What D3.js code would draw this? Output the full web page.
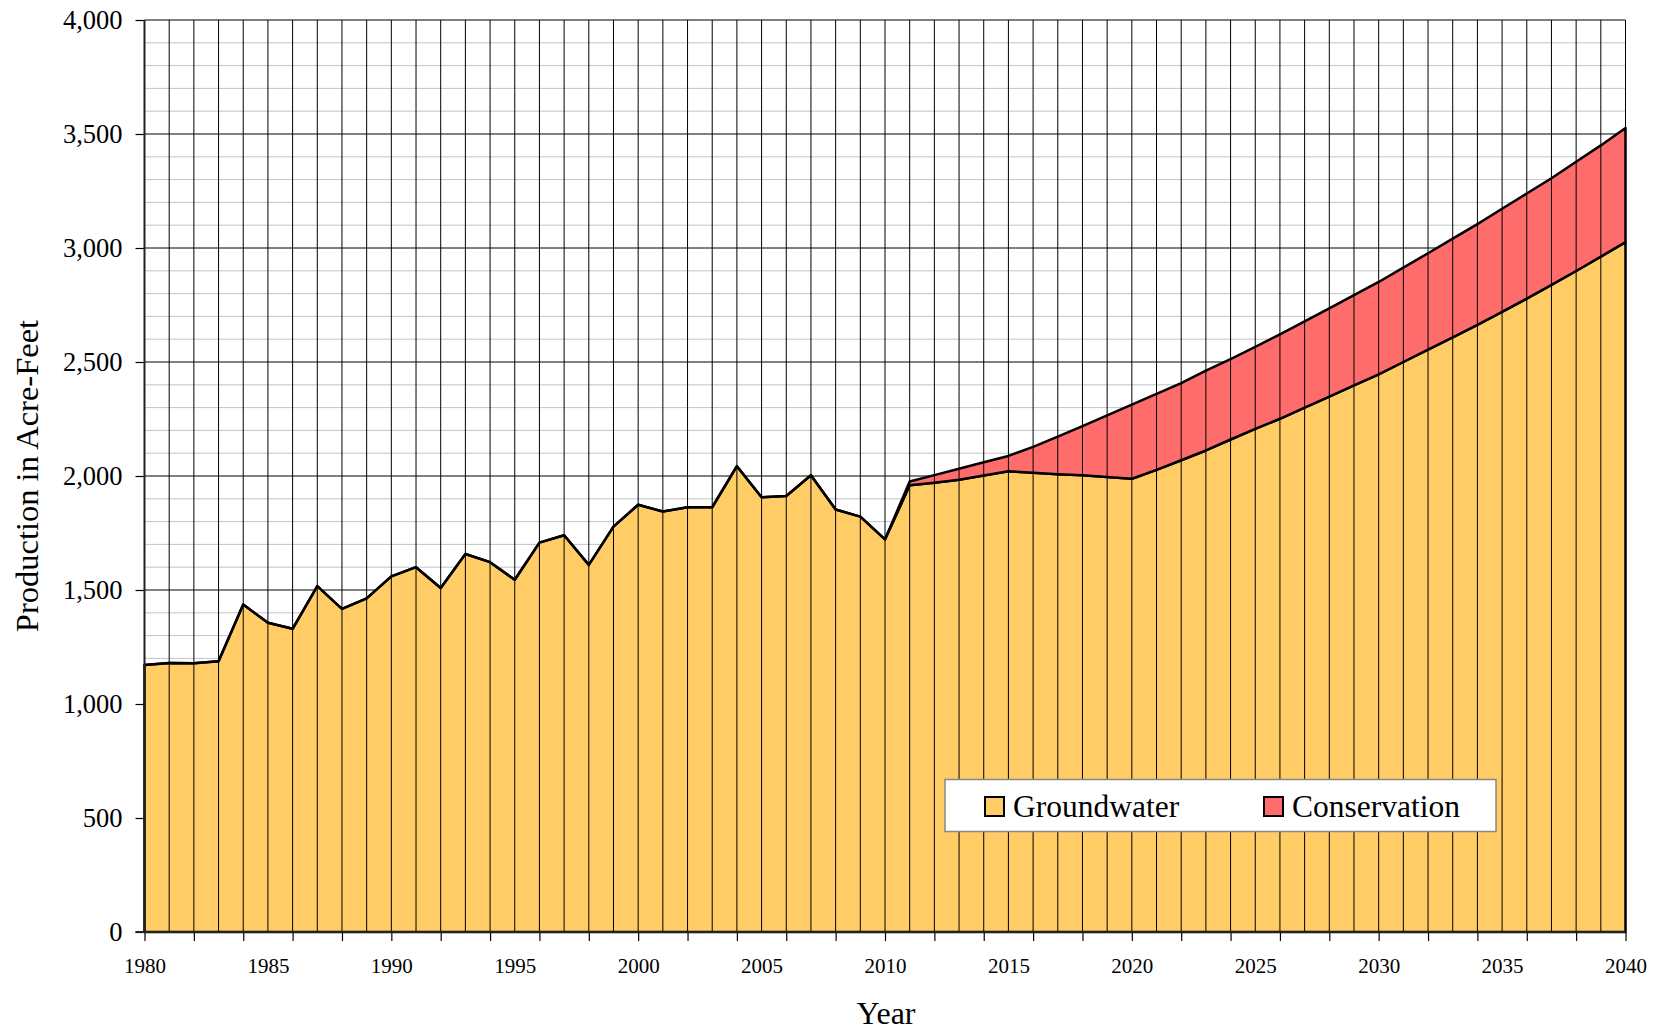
<!DOCTYPE html>
<html lang="en">
<head>
    <meta charset="UTF-8">
    <title>Production in Acre-Feet</title>
    <script src="https://d3js.org/d3.v7.min.js"></script>
    <style>
        html, body {
            margin: 0;
            padding: 0;
            background-color: #ffffff;
        }
        svg text {
            font-family: 'Liberation Serif', 'Times New Roman', serif;
            fill: #000;
        }
    </style>
</head>
<body>
    <div id="chart"></div>
    <script>
        // DATA
        const years = d3.range(1980, 2041);
        const groundwater = [
            1171, 1180, 1179, 1187, 1436, 1356, 1330, 1517, 1417, 1463,
            1560, 1600, 1509, 1658, 1622, 1545, 1708, 1740, 1610, 1778,
            1874, 1844, 1863, 1863, 2043, 1907, 1912, 2003, 1853, 1822,
            1722, 1959, 1970, 1984, 2002, 2021, 2014, 2008, 2003, 1996,
            1988, 2027, 2069, 2112, 2160, 2207, 2251, 2300, 2348, 2397,
            2446, 2500, 2554, 2608, 2663, 2720, 2778, 2838, 2899, 2962,
            3026
        ];
        const conservation = [
            0, 0, 0, 0, 0, 0, 0, 0, 0, 0,
            0, 0, 0, 0, 0, 0, 0, 0, 0, 0,
            0, 0, 0, 0, 0, 0, 0, 0, 0, 0,
            0, 17, 34, 48, 58, 67, 114, 165, 216, 270,
            325, 333, 338, 350, 353, 359, 370, 378, 387, 396,
            405, 414, 423, 433, 442, 452, 461, 468, 479, 488,
            500
        ];
        const yTicks = d3.range(0, 4001, 500);
        const xLabelYears = d3.range(1980, 2041, 5);
        const xTickYears = d3.range(1980, 2041, 2);
        const seriesNames = ["Groundwater", "Conservation"];
        const seriesColors = ["#FFCC66", "#FF6C6C"];

        const W = 1661, H = 1030;
        const margin = {top: 20, left: 144.5, bottom: 98, right: 35.5};

        const svg = d3.select("#chart")
            .append("svg")
            .attr("width", W)
            .attr("height", H);

        const x = d3.scaleLinear()
            .domain([1980, 2040])
            .range([margin.left, W - margin.right]);
        const y = d3.scaleLinear()
            .domain([0, 4000])
            .range([H - margin.bottom, margin.top]);

        // HORIZONTAL GRID (minor every 100, major every 500)
        svg.append("g")
            .selectAll("line")
            .data(d3.range(100, 4000, 100).filter(v => v % 500 !== 0))
            .enter().append("line")
            .attr("x1", x(1980)).attr("x2", x(2040))
            .attr("y1", d => y(d)).attr("y2", d => y(d))
            .attr("stroke", "#c4c4c4")
            .attr("stroke-width", 1);
        svg.append("g")
            .selectAll("line")
            .data(yTicks.filter(v => v > 0))
            .enter().append("line")
            .attr("x1", x(1980)).attr("x2", x(2040))
            .attr("y1", d => y(d)).attr("y2", d => y(d))
            .attr("stroke", "#000")
            .attr("stroke-width", 1);

        // STACKED AREAS
        const table = years.map((yr, i) => ({
            year: yr,
            Groundwater: groundwater[i],
            Conservation: conservation[i]
        }));
        const stacked = d3.stack().keys(seriesNames)(table);
        const area = d3.area()
            .x(d => x(d.data.year))
            .y0(d => y(d[0]))
            .y1(d => y(d[1]));

        svg.append("g")
            .selectAll("path")
            .data(stacked)
            .enter().append("path")
            .attr("d", area)
            .attr("fill", (d, i) => seriesColors[i])
            .attr("stroke", "#000")
            .attr("stroke-width", 2.5)
            .attr("stroke-linejoin", "round");

        // VERTICAL GRID (every year, drawn over the areas)
        svg.append("g")
            .selectAll("line")
            .data(years)
            .enter().append("line")
            .attr("x1", d => x(d)).attr("x2", d => x(d))
            .attr("y1", y(4000)).attr("y2", y(0))
            .attr("stroke", "#000")
            .attr("stroke-width", 1);

        // AXES
        const yAxis = d3.axisLeft(y)
            .tickValues(yTicks)
            .tickSize(9)
            .tickPadding(13)
            .tickFormat(d3.format(","));
        const gy = svg.append("g")
            .attr("transform", `translate(${x(1980)},0)`)
            .call(yAxis);
        gy.select(".domain").remove();
        gy.selectAll("line").attr("stroke", "#000").attr("stroke-width", 1.2);
        gy.selectAll("text").style("font-size", "26.5px");

        const xAxis = d3.axisBottom(x)
            .tickValues(xTickYears)
            .tickSize(9)
            .tickFormat("");
        const gx = svg.append("g")
            .attr("transform", `translate(0,${y(0)})`)
            .call(xAxis);
        gx.select(".domain").remove();
        gx.selectAll("line").attr("stroke", "#000").attr("stroke-width", 1.2);

        const xLabels = d3.axisBottom(x)
            .tickValues(xLabelYears)
            .tickSize(0)
            .tickPadding(26)
            .tickFormat(d3.format("d"));
        const gxl = svg.append("g")
            .attr("transform", `translate(0,${y(0)})`)
            .call(xLabels);
        gxl.select(".domain").remove();
        gxl.selectAll("text").style("font-size", "21px");

        // AXIS LINES
        svg.append("line")
            .attr("x1", x(1980)).attr("x2", x(1980))
            .attr("y1", y(4000)).attr("y2", y(0))
            .attr("stroke", "#222").attr("stroke-width", 2);
        svg.append("line")
            .attr("x1", x(1980) - 9).attr("x2", x(2040))
            .attr("y1", y(0)).attr("y2", y(0))
            .attr("stroke", "#222").attr("stroke-width", 2);

        // AXIS TITLES
        svg.append("text")
            .attr("x", 886)
            .attr("y", 1024)
            .attr("text-anchor", "middle")
            .style("font-size", "32px")
            .text("Year");
        svg.append("text")
            .attr("transform", "translate(38,476) rotate(-90)")
            .attr("text-anchor", "middle")
            .style("font-size", "32.5px")
            .text("Production in Acre-Feet");

        // LEGEND
        const legend = svg.append("g");
        legend.append("rect")
            .attr("x", 945).attr("y", 779.5)
            .attr("width", 551).attr("height", 52)
            .attr("fill", "#fff")
            .attr("stroke", "#888")
            .attr("stroke-width", 1.5);
        const legendX = [985, 1264];
        seriesNames.forEach((name, i) => {
            legend.append("rect")
                .attr("x", legendX[i]).attr("y", 797)
                .attr("width", 19).attr("height", 19)
                .attr("fill", seriesColors[i])
                .attr("stroke", "#000")
                .attr("stroke-width", 2);
            legend.append("text")
                .attr("x", legendX[i] + 28)
                .attr("y", 817)
                .style("font-size", "31.5px")
                .text(name);
        });
    </script>
</body>
</html>
